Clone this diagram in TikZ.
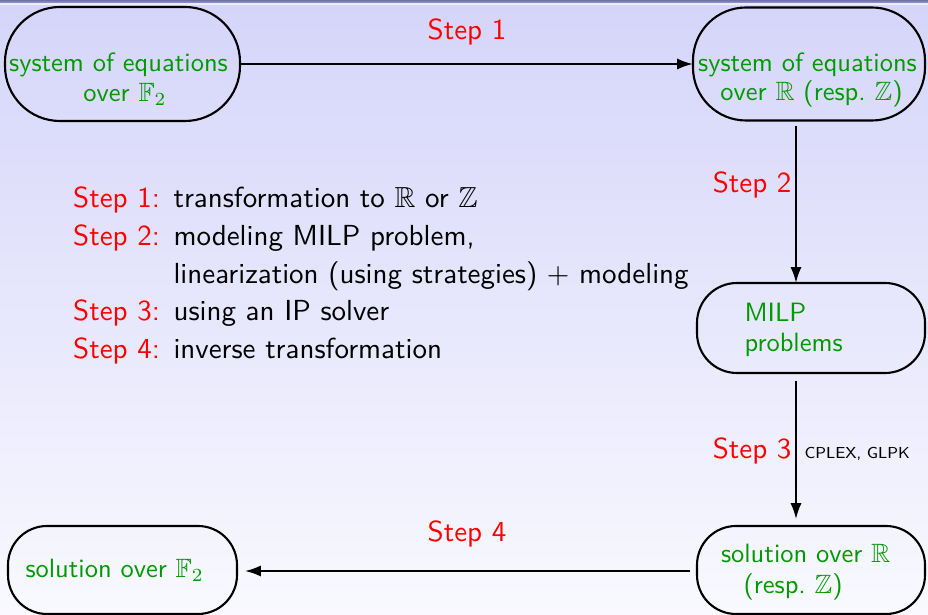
\documentclass[tikz,border=0pt]{standalone}
\usepackage{amssymb}
\usetikzlibrary{arrows.meta}
\definecolor{eqgreen}{RGB}{0,153,0}
\definecolor{bgtop}{RGB}{213,213,250}
\definecolor{bgbottom}{RGB}{249,249,255}
\definecolor{bartop}{RGB}{112,112,172}
\definecolor{barbottom}{RGB}{160,160,212}
\definecolor{barline}{RGB}{236,236,252}
\def\pxu{0.3776pt}
\begin{document}
\begin{tikzpicture}[x=0.3776pt, y=-0.3776pt, font=\sffamily,
  box/.style={draw, line width=0.8pt, rectangle, inner sep=0pt, outer sep=0pt},
  arr/.style={-{Latex[length=6pt,width=4.2pt]}, line width=0.8pt},
  boxtext/.style={text=eqgreen, font=\sffamily\fontsize{10}{12}\selectfont, inner sep=0pt, anchor=base},
  steplbl/.style={text=red, font=\sffamily\fontsize{10.95}{13}\selectfont, inner sep=0pt},
  listtext/.style={font=\sffamily\fontsize{10.95}{13}\selectfont, inner sep=0pt, anchor=base west},
  tool/.style={font=\sffamily\fontsize{6}{7}\selectfont, inner sep=0pt, anchor=base west}]
\useasboundingbox (0,0) rectangle (928,615);

% slide background and the thin bar at the top
\shade[top color=bgtop, bottom color=bgbottom] (0,4) rectangle (928,615);
\shade[top color=bartop, bottom color=barbottom] (0,0) rectangle (928,3.3);
\fill[barline] (0,3.3) rectangle (928,4.6);

% rounded boxes
\node[box, minimum width=235*\pxu, minimum height=114*\pxu, rounded corners=55*\pxu] (A) at (122.5,64) {};
\node[box, minimum width=232*\pxu, minimum height=113*\pxu, rounded corners=53*\pxu] (B) at (809,64) {};
\node[box, minimum width=228*\pxu, minimum height=90*\pxu, rounded corners=40*\pxu] (C) at (811,328) {};
\node[box, minimum width=228*\pxu, minimum height=88*\pxu, rounded corners=39*\pxu] (D) at (811,570) {};
\node[box, minimum width=229*\pxu, minimum height=88*\pxu, rounded corners=39*\pxu] (E) at (122.5,570) {};

% box contents
\node[boxtext] (A1) at (118.5,71.7) {system of equations};
\node[boxtext] (A2) at (125,101.7) {over $\mathbb{F}_2$};
\node[boxtext] (B1) at (807.5,71.7) {system of equations};
\node[boxtext] (B2) at (811.5,100.5) {over $\mathbb{R}$ (resp.\ $\mathbb{Z}$)};
\node[boxtext, anchor=base west] (C1) at (744,321.7) {MILP};
\node[boxtext, anchor=base west] (C2) at (744,351.7) {problems};
\node[boxtext, anchor=base west] (D1) at (720.5,563) {solution over $\mathbb{R}$};
\node[boxtext, anchor=base west] (D2) at (743,593.5) {(resp.\ $\mathbb{Z}$)};
\node[boxtext, anchor=base west] (E1) at (25,578) {solution over $\mathbb{F}_2$};

% connectors
\coordinate (vx) at (796,0);
\draw[arr] (A.east) -- (A.east -| B.west);
\draw[arr, shorten <=1.9pt] (B.south -| vx) -- (C.north -| vx);
\draw[arr, shorten <=3pt, shorten >=2.6pt] (C.south -| vx) -- (D.north -| vx);
\draw[arr, shorten <=2.6pt, shorten >=3pt] ([yshift=-1*\pxu]D.west) -- ([yshift=-1*\pxu]E.east);

% connector labels
\node[steplbl, anchor=base] (s1) at (467,40) {Step 1};
\node[steplbl, anchor=base east] (s2) at (792,192.3) {Step 2};
\node[steplbl, anchor=base east] (s3) at (792,458.3) {Step 3};
\node[tool] (s3t) at (804,458.3) {CPLEX, GLPK};
\node[steplbl, anchor=base] (s4) at (467,541.7) {Step 4};

% list of steps
\node[listtext, text=red] (l1) at (72.7,207.5) {Step 1:};
\node[listtext] (d1) at (173,207.5) {transformation to $\mathbb{R}$ or $\mathbb{Z}$};
\node[listtext, text=red] (l2) at (72.7,245.3) {Step 2:};
\node[listtext] (d2) at (173,245.3) {modeling MILP problem,};
\node[listtext] (d2b) at (173,283.1) {linearization (using strategies) $+$ modeling};
\node[listtext, text=red] (l3) at (72.7,320.9) {Step 3:};
\node[listtext] (d3) at (173,320.9) {using an IP solver};
\node[listtext, text=red] (l4) at (72.7,358.7) {Step 4:};
\node[listtext] (d4) at (173,358.7) {inverse transformation};
\end{tikzpicture}
\end{document}
